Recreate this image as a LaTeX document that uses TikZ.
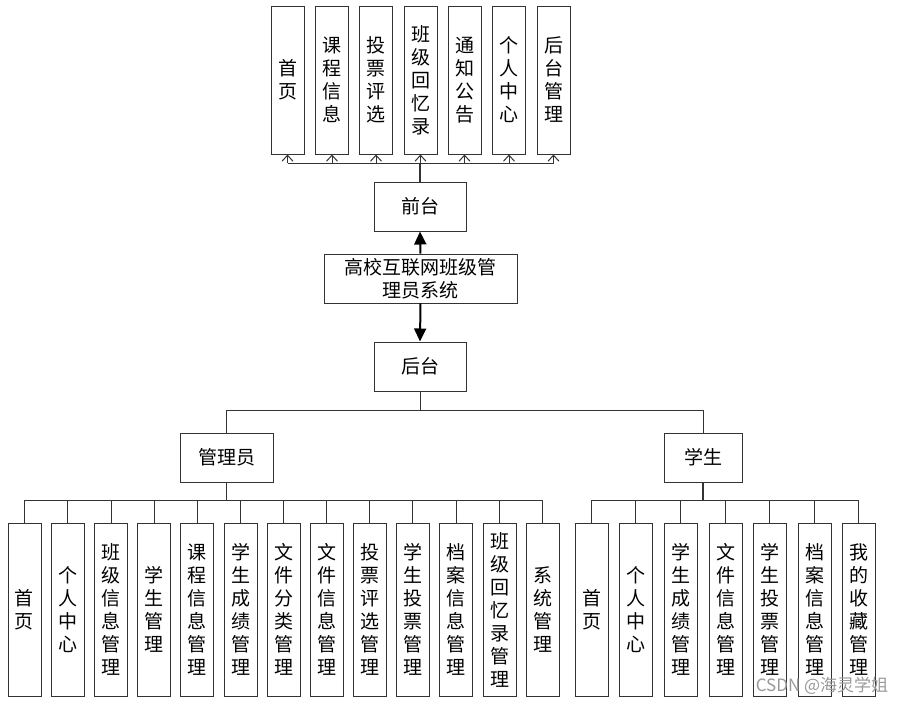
\documentclass[tikz,border=0pt]{standalone}
\usepackage{fontspec}
\setmainfont{Noto Sans CJK SC}
\usetikzlibrary{arrows.meta}
\begin{document}
\begin{tikzpicture}[x=1pt,y=-1pt,
  box/.style={draw=black!80, line width=1pt, fill=white, inner sep=0pt, align=center,
    font=\fontsize{19}{23}\selectfont},
  tbox/.style={box, minimum width=33pt, minimum height=148pt},
  cbox/.style={box, minimum width=33pt, minimum height=173pt},
  hbox/.style={box, minimum height=49pt},
  conn/.style={draw=black!80, line width=1pt},
  bus/.style={draw=black!80, line width=1.6pt},
  openarrow/.style={conn, -{Straight Barb[length=6pt,width=11pt,line width=1pt]}},
  bigarrow/.style={draw=black, line width=2pt, -{Triangle[length=13pt,width=12pt]}},
  wm/.style={text=black!40, font=\fontsize{17}{20}\selectfont}
]
\useasboundingbox (0,0) rectangle (906,705);

% top level boxes
\foreach \i/\x/\t in {1/287.5/首\\页, 2/332/课\\程\\信\\息, 3/376/投\\票\\评\\选,
  4/420.5/班\\级\\回\\忆\\录, 5/464.5/通\\知\\公\\告, 6/509/个\\人\\中\\心, 7/553.5/后\\台\\管\\理}
  \node[tbox] (t\i) at (\x,80) {\t};

\node[hbox, minimum width=92pt] (qt) at (420,206.5) {前台};
\node[hbox, minimum width=193pt] (sys) at (420.5,278.5) {高校互联网班级管\\理员系统};
\node[hbox, minimum width=92pt] (ht) at (420,366.5) {后台};
\node[hbox, minimum width=93pt] (gly) at (226.5,457.5) {管理员};
\node[hbox, minimum width=78pt] (xs) at (703,457.5) {学生};

% admin children
\foreach \i/\x/\t in {1/24.5/首\\页, 2/67.5/个\\人\\中\\心, 3/111/班\\级\\信\\息\\管\\理,
  4/154/学\\生\\管\\理, 5/197/课\\程\\信\\息\\管\\理, 6/240.5/学\\生\\成\\绩\\管\\理,
  7/283.5/文\\件\\分\\类\\管\\理, 8/326.5/文\\件\\信\\息\\管\\理, 9/369.5/投\\票\\评\\选\\管\\理,
  10/412.5/学\\生\\投\\票\\管\\理, 11/456/档\\案\\信\\息\\管\\理, 12/499.5/班\\级\\回\\忆\\录\\管\\理,
  13/542.5/系\\统\\管\\理}
  \node[cbox] (a\i) at (\x,609.5) {\t};

% student children
\foreach \i/\x/\t in {1/591.5/首\\页, 2/635.5/个\\人\\中\\心, 3/680.5/学\\生\\成\\绩\\管\\理,
  4/725.5/文\\件\\信\\息\\管\\理, 5/769.5/学\\生\\投\\票\\管\\理, 6/814.5/档\\案\\信\\息\\管\\理,
  7/858.5/我\\的\\收\\藏\\管\\理}
  \node[cbox] (s\i) at (\x,609.5) {\t};

% bus coordinates
\coordinate (tb) at (420,163);
\coordinate (mb) at (420,410);
\coordinate (ab) at (226.5,500);
\coordinate (sb) at (703,500);

% top connectors
\draw[bus] (qt.north) -- (qt.north |- tb);
\draw[conn] (t1.south |- tb) -- (t7.south |- tb);
\foreach \i in {1,...,7}
  \draw[openarrow] (t\i.south |- tb) -- (t\i.south);

% main arrows
\draw[bigarrow] (sys.north) -- (qt.south);
\draw[bigarrow] (sys.south) -- (ht.north);

% back-end split
\draw[conn] (ht.south) -- (ht.south |- mb);
\draw[conn] (gly.north) -- (gly.north |- mb) -- (xs.north |- mb) -- (xs.north);

% admin bus
\draw[bus] (gly.south) -- (ab);
\draw[conn] (a1.north |- ab) -- (a13.north |- ab);
\foreach \i in {1,...,13}
  \draw[conn] (a\i.north) -- (a\i.north |- ab);

% student bus
\draw[bus] (xs.south) -- (sb);
\draw[conn] (s1.north |- sb) -- (s7.north |- sb);
\foreach \i in {1,...,7}
  \draw[conn] (s\i.north) -- (s\i.north |- sb);

% watermark
\node[wm] (wmk) at (822,686) {CSDN @海灵学姐};
\end{tikzpicture}
\end{document}
